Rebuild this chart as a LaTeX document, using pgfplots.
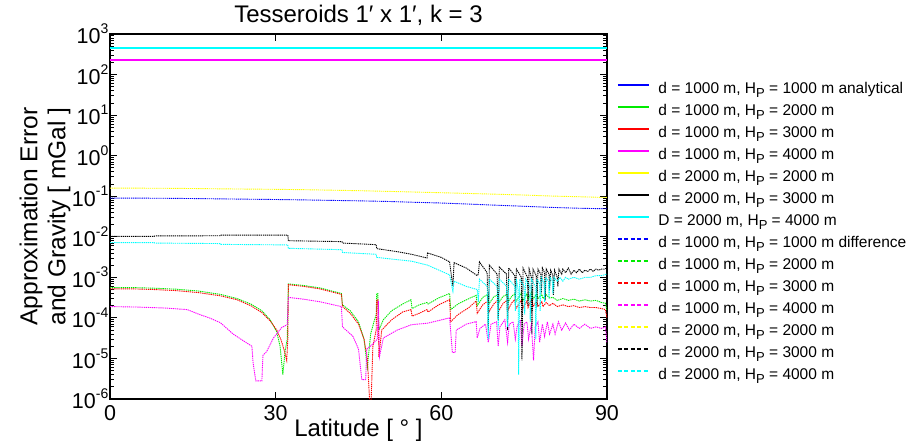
\documentclass[border=0pt]{standalone}
\usepackage{fontspec}
\setmainfont{Liberation Sans}
\usepackage{pgfplots}
\pgfplotsset{compat=1.18}
\newcommand{\Hp}{H\raisebox{-0.22em}{\fontsize{13}{13}\selectfont P}}
\newcommand{\tp}[1]{10\raisebox{0.48em}{\fontsize{14}{14}\selectfont #1}}
\definecolor{cblue}{RGB}{0,0,255}
\definecolor{cgreen}{RGB}{0,235,0}
\definecolor{cred}{RGB}{255,0,0}
\definecolor{cmag}{RGB}{255,0,255}
\definecolor{cyel}{RGB}{255,255,0}
\definecolor{cblk}{RGB}{0,0,0}
\definecolor{ccyan}{RGB}{0,255,255}
\begin{document}
\begin{tikzpicture}
\path[use as bounding box] (0,0) rectangle (912pt,-443pt);
\begin{axis}[
  at={(110pt,-399pt)}, anchor=south west,
  scale only axis, width=497pt, height=365pt,
  xmin=0, xmax=90, ymin=1e-6, ymax=1e3, ymode=log,
  xtick={0,30,60,90}, xticklabels={0,30,60,90},
  ytickten={-6,...,3},
  yticklabels={\tp{-6},\tp{-5},\tp{-4},\tp{-3},\tp{-2},\tp{-1},\tp{0},\tp{1},\tp{2},\tp{3}},
  tick label style={font=\fontsize{21.5}{24}\selectfont},
  xticklabel style={inner sep=0pt, anchor=north, yshift=-6pt},
  yticklabel style={inner sep=0pt, anchor=east, xshift=-1.5pt},
  major tick length=7pt, minor tick length=4pt,
  tick style={line width=0.8pt, black},
  axis line style={line width=1.5pt},
  title={Tesseroids 1′ x 1′, k = 3},
  title style={font=\fontsize{24}{28}\selectfont, at={(axis description cs:0.5,1)}, anchor=base, inner sep=0pt, yshift=6pt},
  xlabel={Latitude [ ° ]},
  xlabel style={font=\fontsize{24}{28}\selectfont, at={(axis description cs:0.5,0)}, anchor=base, inner sep=0pt, yshift=-37pt},
  ylabel={Approximation Error\\and Gravity [ mGal ]},
  ylabel style={font=\fontsize{24.5}{28}\selectfont, align=center, at={(axis description cs:-0.1308,0.5)}, anchor=center, inner sep=0pt},
  legend style={at={(axis description cs:1.0201,0.8671)}, anchor=north west, draw=none, fill=none, inner sep=0pt,
    font=\fontsize{15.5}{18}\selectfont, row sep=7.5pt, column sep=9pt,
    nodes={inner sep=0pt, text height=11pt, text depth=3.5pt}},
  legend cell align=left,
  legend image code/.code={\draw[#1, line width=1.2pt] (0pt,5pt) -- (31pt,5pt);},
  diff/.style={line width=0.9pt, dash pattern=on 1.3pt off 0.8pt,
    legend image code/.code={\draw[##1, line width=1.1pt, dash pattern=on 4pt off 2.5pt] (0pt,5pt) -- (31pt,5pt);}},
  anal/.style={line width=1.8pt},
]
% analytical
\addplot[anal, cblue] coordinates {(0,230)(90,230)};
\addlegendentry{d = 1000 m, \Hp{} = 1000 m analytical}
\addplot[anal, cgreen] coordinates {(0,230)(90,230)};
\addlegendentry{d = 1000 m, \Hp{} = 2000 m}
\addplot[anal, cred] coordinates {(0,230)(90,230)};
\addlegendentry{d = 1000 m, \Hp{} = 3000 m}
\addplot[anal, cmag] coordinates {(0,230)(90,230)};
\addlegendentry{d = 1000 m, \Hp{} = 4000 m}
\addplot[anal, cyel] coordinates {(0,460)(90,460)};
\addlegendentry{d = 2000 m, \Hp{} = 2000 m}
\addplot[anal, cblk] coordinates {(0,460)(90,460)};
\addlegendentry{d = 2000 m, \Hp{} = 3000 m}
\addplot[anal, ccyan] coordinates {(0,460)(90,460)};
\addlegendentry{D = 2000 m, \Hp{} = 4000 m}
% differences
\addplot[diff, cblue] coordinates {(0,0.090)(5,0.0897)(10,0.089)(15,0.0877)(20,0.086)(25,0.0845)(30,0.083)(35,0.0812)(40,0.079)(45,0.077)(50,0.0745)(55,0.071)(60,0.068)(65,0.064)(70,0.060)(75,0.0565)(80,0.053)(85,0.0505)(90,0.049)};
\addlegendentry{d = 1000 m, \Hp{} = 1000 m difference}
\addplot[diff, cgreen] coordinates {(0,5.6e-4)(4,5.6e-4)(8,5.4e-4)(12,5.1e-4)(16,4.6e-4)(20,3.8e-4)(23,3.0e-4)(25.5,2.2e-4)(27.5,1.5e-4)(29,9e-5)(30.2,4.5e-5)(30.8,2e-5)(31.3,4e-6)(31.7,1.5e-5)(32.1,3e-5)(32.3,6.9e-4)(35,6.3e-4)(38,5.5e-4)(41.9,4.0e-4)(42.1,2.1e-4)(43.5,1.5e-4)(45,8e-5)(46,3e-5)(46.6,6e-6)(47.2,4e-5)(47.8,8e-5)(48.2,1.2e-4)(48.3,4.0e-4)(48.5,4.0e-4)(48.7,5e-5)(49.5,9e-5)(51,1.5e-4)(53,2.2e-4)(54.5,2.8e-4)(54.7,1.7e-4)(56,2.1e-4)(57.4,2.4e-4)(57.6,2.2e-4)(59.5,3.1e-4)(61.5,4.0e-4)(61.7,1.6e-4)(63,2.2e-4)(65,3.0e-4)(66.3,3.6e-4)(66.5,2.0e-4)(67.5,3.2e-4)(68.4,3.8e-4)(68.6,2.2e-4)(69.5,3.3e-4)(70.2,3.7e-4)(70.4,2.4e-4)(71.2,3.4e-4)(71.9,3.8e-4)(72.1,2.5e-4)(72.8,3.5e-4)(73.3,3.9e-4)(73.5,2.5e-4)(74.5,4.2e-4)(74.7,2.6e-4)(75.5,3.9e-4)(75.7,2.8e-4)(76.4,4.5e-4)(76.6,2.9e-4)(77.3,4.0e-4)(77.5,3.0e-4)(78.2,3.8e-4)(78.4,3.0e-4)(79,3.7e-4)(79.6,3.1e-4)(80.2,3.2e-4)(81,2.7e-4)(82,3.0e-4)(83,2.7e-4)(84,2.9e-4)(85,2.6e-4)(86,2.8e-4)(87,2.6e-4)(88,2.7e-4)(89,2.4e-4)(89.7,2.3e-4)(90,1.5e-4)};
\addlegendentry{d = 1000 m, \Hp{} = 2000 m}
\addplot[diff, cred] coordinates {(0,5.2e-4)(4,5.2e-4)(8,5.0e-4)(12,4.7e-4)(16,4.2e-4)(20,3.5e-4)(23,2.8e-4)(25.5,2.0e-4)(27.5,1.35e-4)(29,8.5e-5)(30.2,5e-5)(31,2.8e-5)(31.6,1.5e-5)(32,9e-6)(32.2,3e-5)(32.3,6.6e-4)(35,6.0e-4)(38,5.2e-4)(41.9,3.8e-4)(42.1,1.9e-4)(43.5,1.3e-4)(45,7e-5)(46,3e-5)(46.6,1e-5)(47,1e-6)(47.1,5e-7)(47.3,1e-6)(47.6,2e-5)(48.2,5e-5)(48.3,2.8e-4)(48.5,2.8e-4)(48.7,1.1e-5)(49.2,5e-5)(51,9e-5)(53,1.4e-4)(54.5,1.6e-4)(54.7,1.1e-4)(56,1.3e-4)(57.4,1.6e-4)(57.6,1.4e-4)(59.5,2.1e-4)(61.5,2.8e-4)(61.7,8e-5)(63,1.2e-4)(65,1.8e-4)(66.3,2.6e-4)(66.5,1.3e-4)(67.5,2.1e-4)(68.4,2.6e-4)(68.6,1.4e-4)(69.5,2.2e-4)(70.2,2.7e-4)(70.4,1.5e-4)(71.2,2.3e-4)(71.9,2.7e-4)(72.1,1.6e-4)(72.8,2.4e-4)(73.3,2.8e-4)(73.5,1.7e-4)(74.5,2.7e-4)(74.7,1.7e-4)(75.5,2.6e-4)(75.7,1.8e-4)(76.4,3.0e-4)(76.6,1.9e-4)(77.3,2.6e-4)(77.5,1.9e-4)(78.2,2.5e-4)(78.4,1.9e-4)(79,2.4e-4)(79.6,2.0e-4)(80.2,2.3e-4)(81,1.9e-4)(82,2.1e-4)(83,1.9e-4)(84,2.0e-4)(85,1.8e-4)(86,1.9e-4)(87,1.8e-4)(88,1.8e-4)(89,1.7e-4)(89.7,1.6e-4)(90,1.0e-4)};
\addlegendentry{d = 1000 m, \Hp{} = 3000 m}
\addplot[diff, cmag] coordinates {(0,1.9e-4)(5,1.85e-4)(10,1.75e-4)(14,1.6e-4)(16.3,1.2e-4)(18,1.0e-4)(20,7.6e-5)(22.3,4e-5)(24,2.8e-5)(25.7,2.0e-5)(25.9,8e-6)(26.4,2.8e-6)(27.5,2.8e-6)(27.7,1.2e-5)(28.4,1.5e-5)(29.6,3.2e-5)(31.1,5.8e-5)(32.1,6.8e-5)(32.3,3.2e-4)(35,2.9e-4)(38,2.5e-4)(41.9,1.9e-4)(42.1,6e-5)(44,3.5e-5)(45,1.7e-5)(45.6,3e-6)(46.3,3e-6)(46.5,1.7e-5)(47.5,2.2e-5)(48.4,3e-5)(48.6,2.6e-4)(48.8,1.1e-5)(49.5,3.2e-5)(52,5e-5)(54.6,6.8e-5)(57.5,7.4e-5)(61.5,1.0e-4)(62.0,1.4e-5)(62.5,1.4e-5)(62.7,5e-5)(64.5,7e-5)(66.3,8.1e-5)(66.5,3.2e-5)(67,5.5e-5)(68,7e-5)(68.5,2.5e-5)(69,7e-5)(70,8e-5)(70.3,2e-5)(70.6,6e-5)(71.5,9e-5)(72,2.5e-5)(72.3,7e-5)(73,8e-5)(73.4,3e-5)(73.7,6e-5)(74.3,9e-5)(74.6,2e-5)(75,7e-5)(75.5,8e-5)(75.8,3e-5)(76.3,7e-5)(76.7,9e-6)(77,6e-5)(77.5,8e-5)(77.8,2.5e-5)(78.3,7e-5)(78.7,3.5e-5)(79.2,8e-5)(79.6,4e-5)(80.2,7e-5)(80.6,4e-5)(81.2,8e-5)(81.8,5e-5)(82.5,7.5e-5)(83.2,5e-5)(84,7e-5)(85,5.5e-5)(86,7e-5)(87,5.5e-5)(88,6e-5)(89,5.5e-5)(89.7,6e-5)(90,2.5e-5)};
\addlegendentry{d = 1000 m, \Hp{} = 4000 m}
\addplot[diff, cyel] coordinates {(0,0.158)(5,0.158)(10,0.157)(15,0.155)(20,0.152)(25,0.150)(30,0.148)(35,0.145)(40,0.141)(45,0.137)(50,0.132)(55,0.127)(60,0.122)(65,0.117)(70,0.112)(75,0.107)(80,0.101)(85,0.097)(90,0.093)};
\addlegendentry{d = 2000 m, \Hp{} = 2000 m}
\addplot[diff, cblk] coordinates {(0,0.0102)(8,0.0102)(8.1,0.0105)(20,0.0106)(20.1,0.0110)(32.2,0.0110)(32.3,0.0080)(42,0.0076)(42.1,0.0070)(48.2,0.0064)(48.3,0.0051)(52,0.0043)(54.6,0.0037)(57.4,0.0030)(57.5,0.0040)(60,0.0031)(61.5,0.0024)(61.9,0.0009)(62.1,0.0006)(62.3,0.0023)(64.5,0.0017)(66.5,0.0011)(66.7,0.0012)(66.9,0.0024)(68.3,0.0013)(68.5,0.00005)(68.7,0.0020)(70.1,0.0012)(70.3,0.00009)(70.5,0.0018)(71.8,0.0012)(72.0,0.00005)(72.2,0.0017)(73.3,0.0011)(73.4,0.0003)(73.6,0.0016)(74.5,0.0010)(74.6,0.000009)(74.8,0.0017)(75.6,0.0010)(75.7,0.0002)(75.9,0.0016)(76.3,0.0010)(76.4,0.00004)(76.6,0.0016)(77.2,0.0011)(77.3,0.00019)(77.5,0.0016)(78.0,0.0012)(78.1,0.0004)(78.3,0.0017)(78.7,0.0013)(78.8,0.00027)(79.0,0.0016)(79.5,0.0012)(79.6,0.0005)(79.8,0.0015)(80.2,0.0011)(80.3,0.00037)(80.5,0.0015)(81.0,0.0010)(81.1,0.0006)(81.3,0.0016)(81.8,0.0012)(82.0,0.0016)(82.5,0.0013)(83.0,0.0017)(83.5,0.0012)(84.0,0.0015)(84.5,0.0013)(85.0,0.0016)(85.5,0.0013)(86.0,0.0015)(86.5,0.0014)(87.0,0.0016)(87.5,0.0014)(88.0,0.0016)(88.5,0.0015)(89.0,0.0016)(89.5,0.0016)(90.0,0.0017)};
\addlegendentry{d = 2000 m, \Hp{} = 3000 m}
\addplot[diff, ccyan] coordinates {(0,0.0072)(8,0.0072)(8.1,0.0070)(20,0.0068)(20.1,0.0065)(32.2,0.0063)(32.3,0.0052)(42,0.0048)(42.1,0.0041)(48.2,0.0037)(48.3,0.0031)(54.6,0.0025)(57.5,0.0020)(61.5,0.00115)(61.9,0.0006)(62.1,0.00045)(62.3,0.0008)(64.5,0.0006)(66.5,0.0005)(66.7,0.00025)(66.9,0.0009)(68.3,0.0006)(68.5,0.00003)(68.7,0.0009)(70.1,0.0006)(70.3,0.00005)(70.5,0.0009)(71.8,0.0006)(72.0,0.00006)(72.2,0.0009)(73.3,0.0006)(73.4,0.00015)(73.6,0.0009)(73.9,0.0005)(74.0,0.000004)(74.2,0.0009)(75.0,0.0006)(75.1,0.00012)(75.3,0.0009)(76.0,0.0006)(76.1,0.00008)(76.3,0.0009)(77.0,0.0006)(77.1,0.00003)(77.3,0.0009)(77.8,0.0007)(77.9,0.00015)(78.1,0.0010)(78.6,0.0007)(78.7,0.00025)(78.9,0.0010)(79.4,0.0008)(79.5,0.0003)(79.7,0.0010)(80.1,0.0008)(80.2,0.0004)(80.4,0.0010)(81,0.0008)(81.5,0.0010)(82,0.0008)(82.5,0.0010)(83,0.0009)(84,0.0010)(85,0.0009)(86,0.0010)(87,0.0010)(88,0.0011)(89,0.0011)(90,0.0012)};
\addlegendentry{d = 2000 m, \Hp{} = 4000 m}
\end{axis}
\end{tikzpicture}
\end{document}
